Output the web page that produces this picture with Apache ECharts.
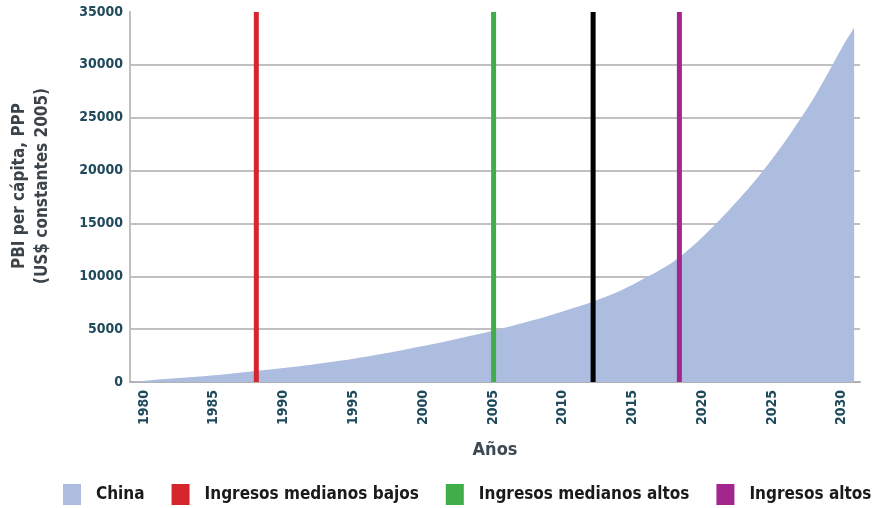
<!DOCTYPE html>
<html>
<head>
<meta charset="utf-8">
<script src="https://cdn.jsdelivr.net/npm/echarts@6/dist/echarts.min.js"></script>
<style>
  html, body { margin: 0; padding: 0; background: #fff; }
  #chart { width: 876px; height: 508px; }
</style>
</head>
<body>
<div id="chart"></div>
<script>
// PBI per cápita China
var years = [1979.14, 1980, 1982, 1984, 1986, 1988, 1990, 1992, 1994, 1996, 1998, 2000,
  2002, 2004, 2005, 2006, 2008, 2010, 2012, 2014, 2016, 2018, 2020, 2022, 2024,
  2026, 2028, 2030, 2030.88];
var china = [0, 120, 330, 520, 760, 1040, 1320, 1640, 2000, 2420, 2880, 3400,
  3960, 4540, 4850, 5180, 5880, 6680, 7520, 8550, 9900, 11450, 13700, 16400, 19400,
  22900, 26900, 31600, 33500];

// umbrales de ingreso (año en que se alcanzan)
var umbralNombres = ["Ingresos medianos bajos", "Ingresos medianos altos", "", "Ingresos altos"];
var umbralAnios = [1988.05, 2005.05, 2012.18, 2018.36];
var umbralColores = ["#d5262e", "#3fae49", "#000000", "#a3268f"];

var yTicks = [0, 5000, 10000, 15000, 20000, 25000, 30000, 35000];
var xTickStep = 5;

var font = "'Liberation Sans Narrow', 'DejaVu Sans Condensed', sans-serif";

var series = [{
  name: "China",
  type: "line",
  data: years.map(function (y, i) { return [y, china[i]]; }),
  smooth: 0.3,
  symbol: "none",
  lineStyle: { width: 0 },
  itemStyle: { color: "#adbde0" },
  areaStyle: { color: "#adbde0", opacity: 1 },
  z: 1
}];

for (var i = 0; i < umbralAnios.length; i++) {
  series.push({
    name: umbralNombres[i] || "umbral" + i,
    type: "line",
    data: [[umbralAnios[i], yTicks[0]], [umbralAnios[i], yTicks[yTicks.length - 1]]],
    symbol: "none",
    lineStyle: { width: 5, color: umbralColores[i] },
    itemStyle: { color: umbralColores[i] },
    z: 3
  });
}

var option = {
  backgroundColor: "#fff",
  animation: false,
  grid: { left: 128, right: 16, top: 12, bottom: 126 },
  legend: {
    data: ["China", "Ingresos medianos bajos", "Ingresos medianos altos", "Ingresos altos"],
    left: 63,
    top: 484,
    width: 840,
    padding: 0,
    icon: "rect",
    itemWidth: 18,
    itemHeight: 21,
    itemGap: 27,
    textStyle: { fontFamily: font, fontWeight: "bold", fontSize: 17, color: "#1a1a1a", padding: [0, 0, 0, 10] }
  },
  xAxis: {
    type: "value",
    min: 1979,
    max: 2031.3,
    interval: 1,
    name: "Años",
    nameLocation: "middle",
    nameGap: 59,
    nameTextStyle: { fontFamily: font, fontWeight: "bold", fontSize: 18, color: "#3c4852" },
    axisLine: { show: true, onZero: false, lineStyle: { color: "#b0b0b0", width: 2 } },
    axisTick: { show: false },
    splitLine: { show: false },
    axisLabel: {
      rotate: 90,
      margin: 8,
      fontFamily: font,
      fontWeight: "bold",
      fontSize: 14,
      color: "#1f4a5c",
      formatter: function (v) { return v % xTickStep === 0 ? String(v) : ""; }
    }
  },
  yAxis: {
    type: "value",
    min: yTicks[0],
    max: yTicks[yTicks.length - 1],
    interval: yTicks[1] - yTicks[0],
    name: "PBI per cápita, PPP\n(US$ constantes 2005)",
    nameLocation: "middle",
    nameGap: 76,
    nameTextStyle: { fontFamily: font, fontWeight: "bold", fontSize: 17, lineHeight: 23, color: "#3d4449", padding: [0, 0, 0, 22] },
    axisLine: { show: true, lineStyle: { color: "#c0c0c0", width: 2 } },
    axisTick: { show: false },
    axisLabel: {
      margin: 7, fontFamily: font, fontWeight: "bold", fontSize: 14, color: "#1f4a5c",
      formatter: function (v) { return String(v); }
    },
    splitLine: {
      show: true,
      lineStyle: { color: ["#ababab", "#ababab", "#ababab", "#ababab", "#ababab", "#ababab", "#ababab", "rgba(0,0,0,0)"], width: 1.5 }
    }
  },
  series: series
};

var myChart = echarts.init(document.getElementById("chart"));
myChart.setOption(option);
</script>
</body>
</html>
